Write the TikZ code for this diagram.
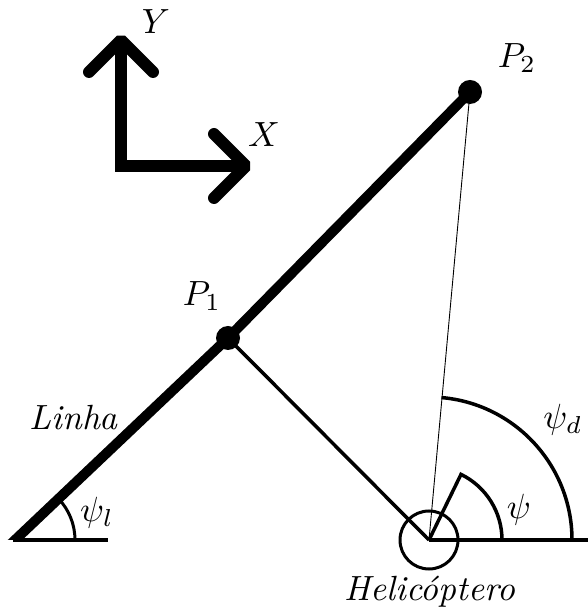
\documentclass[tikz,border=0pt]{standalone}
\usepackage{tikz}
\usetikzlibrary{positioning, calc}

\begin{document}
\begin{tikzpicture}[
  x=1pt, y=1pt,
  every node/.style={inner sep=0pt},
  lbl/.style={scale=3.5},
  axline/.style={line width=12pt, line join=miter},
  axhead/.style={line width=12pt, line join=bevel, line cap=round},
  mainline/.style={line width=10pt},
  midline/.style={line width=3.5pt},
  thinline/.style={line width=0.9pt},
  ptdot/.style={circle, fill=black, minimum size=24pt}
]
\useasboundingbox (0,0) rectangle (588,615);

% Points
\coordinate (O) at (15,75);
\coordinate (H) at (429,75);
\node[ptdot] (P1) at (228,277) {};
\node[ptdot] (P2) at (470,523) {};

% Axes
\coordinate (C) at (121,449);
\coordinate (Yt) at (121,575);
\coordinate (Xt) at (246,449);
\draw[axline] (Yt) -- (C) -- (Xt);
\draw[axhead] (89,543) -- (Yt) -- (153,543);
\draw[axhead] (214,481) -- (Xt) -- (214,417);
\node[lbl] (Ylbl) at (156,593) {$Y$};
\node[lbl] (Xlbl) at (264,480) {$X$};

% Line
\begin{scope}
  \clip (0,75) rectangle (588,615);
  \draw[mainline] ($(O)!-0.03!(P1)$) -- (P1.center) -- (P2.center);
\end{scope}
\draw[midline] (13,75) -- (108,75);
\draw[line width=3pt] ([shift={(0:60)}]O) arc (0:44:60);
\node[lbl] (psil) at (97,102) {$\psi_l$};
\node[lbl] (linha) at (74,197) {\textit{Linha}};

% Helicopter
\draw[midline] (H) -- (588,75);
\draw[midline] (H) -- (P1.center);
\draw[thinline] (H) -- (P2.center);
\draw[line width=3pt] (H) circle (29);
\draw[midline] (H) -- ++(64:73) arc (64:0:73);
\draw[midline] ([shift={(85:143)}]H) arc (85:0:143);
\node[lbl] (psi) at (519,105) {$\psi$};
\node[lbl] (psid) at (563,195) {$\psi_d$};
\node[lbl] (heli) at (430,23) {\textit{Helicóptero}};

% Labels
\node[lbl] (P1lbl) at (202,319) {$P_1$};
\node[lbl] (P2lbl) at (517,557) {$P_2$};
\end{tikzpicture}
\end{document}
